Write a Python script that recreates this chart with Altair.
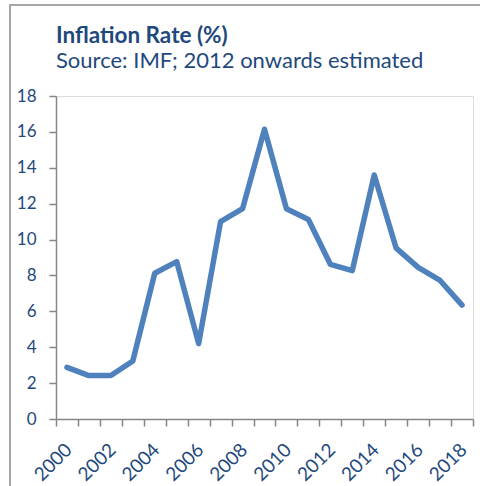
import altair as alt
import pandas as pd

years = list(range(2000, 2019))
inflation = [2.88, 2.42, 2.42, 3.23, 8.12, 8.77, 4.2, 11.0, 11.72, 16.15,
             11.72, 11.12, 8.62, 8.27, 13.6, 9.52, 8.45, 7.72, 6.35]
y_ticks = list(range(0, 19, 2))

df = pd.DataFrame({"year": years, "rate": inflation})

FONT = "Lato"
TEXT = "#1F497D"
GRAY = "#868686"
W, H = 417, 323

x_enc = alt.X(
    "year:O",
    bandPosition=0.5,
    scale=alt.Scale(type="band", paddingInner=0, paddingOuter=0),
    axis=alt.Axis(
        title=None,
        tickBand="extent",
        labelExpr="datum.value % 2 == 0 ? datum.label : ''",
        labelAngle=-45,
        labelFont=FONT,
        labelFontSize=19,
        labelColor=TEXT,
        labelPadding=14,
        labelOffset=-5,
        domainColor=GRAY,
        domainWidth=1.5,
        tickColor=GRAY,
        tickWidth=1.5,
        tickSize=7,
        grid=False,
    ),
)

y_enc = alt.Y(
    "rate:Q",
    scale=alt.Scale(domain=[0, 18], nice=False),
    axis=alt.Axis(
        title=None,
        values=y_ticks,
        labelFont=FONT,
        labelFontSize=17,
        labelColor=TEXT,
        labelPadding=13,
        domainColor=GRAY,
        domainWidth=1.5,
        tickColor=GRAY,
        tickWidth=1.5,
        tickSize=7,
        grid=False,
    ),
)

line = alt.Chart(df).mark_line(color="#4F81BD", strokeWidth=5.5, strokeJoin="round", strokeCap="round").encode(
    x=x_enc, y=y_enc
)

frame = alt.Chart(df).mark_rect(fill=None, stroke="#A6A6A6", strokeWidth=1.5).encode(
    x=alt.value(-46), x2=alt.value(W + 60), y=alt.value(-91), y2=alt.value(H + 120)
)

chart = alt.layer(frame, line).properties(
    width=W,
    height=H,
    title=alt.TitleParams(
        text="Inflation Rate (%)",
        subtitle="Source: IMF; 2012 onwards estimated",
        anchor="start",
        frame="group",
        font=FONT,
        fontSize=22.5,
        fontWeight="bold",
        color=TEXT,
        subtitleFont=FONT,
        subtitleFontSize=22,
        subtitleColor=TEXT,
        subtitlePadding=4,
        offset=-68,
    ),
    autosize=alt.AutoSizeParams(type="none"),
    padding={"left": 56, "top": 96, "right": 7, "bottom": 67},
).configure_view(stroke=None).configure(background="white")

chart.save("out.html", embed_options={"renderer": "svg", "actions": False})
